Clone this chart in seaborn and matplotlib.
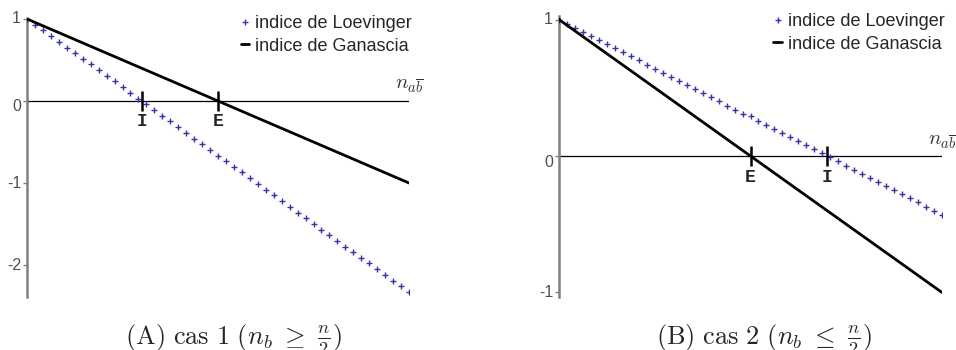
import matplotlib
matplotlib.use("Agg")
import matplotlib.pyplot as plt
from matplotlib.lines import Line2D
from matplotlib.transforms import offset_copy
import seaborn as sns
import pandas as pd

# ---------------- data ----------------
n_points = list(range(49))  # n_{a b-bar} steps

loev_A = [1.00, 0.93, 0.86, 0.79, 0.72, 0.65, 0.58, 0.51, 0.45, 0.38,
          0.31, 0.24, 0.17, 0.10, 0.03, -0.04, -0.11, -0.18, -0.25, -0.32,
          -0.39, -0.46, -0.53, -0.60, -0.67, -0.73, -0.80, -0.87, -0.94, -1.01,
          -1.08, -1.15, -1.22, -1.29, -1.36, -1.43, -1.50, -1.57, -1.64, -1.71,
          -1.78, -1.84, -1.91, -1.98, -2.05, -2.12, -2.19, -2.26, -2.33]
gan_A_x = [0, 48]
gan_A = [1.0, -1.0]

loev_B = [1.00, 0.97, 0.94, 0.91, 0.88, 0.85, 0.82, 0.79, 0.76, 0.73,
          0.70, 0.67, 0.64, 0.61, 0.58, 0.55, 0.52, 0.49, 0.46, 0.43,
          0.40, 0.37, 0.34, 0.31, 0.29, 0.26, 0.23, 0.20, 0.17, 0.14,
          0.11, 0.08, 0.05, 0.02, -0.01, -0.04, -0.07, -0.10, -0.13, -0.16,
          -0.19, -0.22, -0.25, -0.28, -0.31, -0.34, -0.37, -0.40, -0.43]
gan_B_x = [0, 48]
gan_B = [1.0, -1.0]

yticks_A = [1, 0, -1, -2]
yticks_B = [1, 0, -1]
marks_A = {"I": 14.4, "E": 24.0}
marks_B = {"E": 24.0, "I": 33.6}

legend_labels = ["indice de Loevinger", "indice de Ganascia"]
captions = [r"$\mathrm{(A)\ cas\ 1\ (}n_b\ \geq\ \frac{n}{2}\mathrm{)}$",
            r"$\mathrm{(B)\ cas\ 2\ (}n_b\ \leq\ \frac{n}{2}\mathrm{)}$"]
xlabel = r"$n_{a\overline{b}}$"

# ---------------- style ----------------
sns.set_style("white")
plt.rcParams["font.family"] = ["Liberation Sans", "DejaVu Sans"]
plt.rcParams["mathtext.fontset"] = "cm"

W, H = 956, 350
fig = plt.figure(figsize=(W / 100, H / 100), dpi=100)

LOEV_COLOR = "#3535a5"
SPINE_COLOR = "#808080"


def panel(rect, loev, gx, gy, ylim, yticks, marks, caption, cap_x):
    ax = fig.add_axes(rect)
    ax.set_facecolor("none")
    df_l = pd.DataFrame({"n": n_points, "v": loev})
    df_g = pd.DataFrame({"n": gx, "v": gy})
    ax.axhline(0, color="black", lw=0.9, zorder=1)
    sns.scatterplot(data=df_l, x="n", y="v", marker="+", color=LOEV_COLOR,
                    s=18, linewidth=1.0, ax=ax, zorder=3, legend=False)
    sns.lineplot(data=df_g, x="n", y="v", color="black", lw=2.0, ax=ax,
                 zorder=4, legend=False)
    ax.set_xlim(0, 48)
    ax.set_ylim(*ylim)
    ax.set_xlabel("")
    ax.set_ylabel("")
    for s in ["top", "right", "bottom"]:
        ax.spines[s].set_visible(False)
    ax.spines["left"].set_color(SPINE_COLOR)
    ax.spines["left"].set_linewidth(1.8)
    ax.set_xticks([])
    ax.set_yticks(yticks)
    ax.set_yticklabels([])
    ax.tick_params(axis="y", direction="out", length=3, width=1,
                   color=SPINE_COLOR, left=True, pad=0)
    # y tick labels
    for v in yticks:
        dy = -6 if v == 0 else 0
        tr = offset_copy(ax.get_yaxis_transform(), fig=fig, x=-6, y=dy,
                         units="dots")
        ax.text(0, v, f"{v:d}", transform=tr, ha="right",
                va="center", fontsize=11.5, color="#505050")
    # axis label at the end of the x axis
    tr = offset_copy(ax.transData, fig=fig, x=0, y=14, units="dots")
    ax.text(48, 0, xlabel, transform=tr, ha="center", va="center",
            fontsize=15, color="#333333")
    # E / I marks
    for name, xv in marks.items():
        ax.plot([xv], [0], marker="|", markersize=15, mew=1.8, color="black",
                zorder=5)
        tr = offset_copy(ax.transData, fig=fig, x=0, y=-21, units="dots")
        ax.text(xv, 0, name, transform=tr, ha="center", va="center",
                fontsize=13, fontweight="bold",
                family=["Liberation Mono", "DejaVu Sans Mono"])
    # legend
    handles = [Line2D([], [], ls="none", marker="+", color=LOEV_COLOR,
                      markersize=5, mew=1.0),
               Line2D([], [], color="black", lw=2.0)]
    ax.legend(handles, legend_labels, loc="upper left",
              bbox_to_anchor=(0.56, 1.01), frameon=False, fontsize=13,
              handlelength=0.45, handletextpad=0.35, labelspacing=0.3,
              borderpad=0, borderaxespad=0)
    fig.text(cap_x / W, 1 - 344 / H, caption, ha="center", va="baseline",
             fontsize=19)
    return ax


panel([27 / W, 53 / H, 382 / W, 279 / H], loev_A, gan_A_x, gan_A,
      (-2.39, 1.012), yticks_A, marks_A, captions[0], 233.5)
panel([559 / W, 53 / H, 383 / W, 281 / H], loev_B, gan_B_x, gan_B,
      (-1.033, 1.026), yticks_B, marks_B, captions[1], 764)

fig.savefig("out.png", dpi=100)
